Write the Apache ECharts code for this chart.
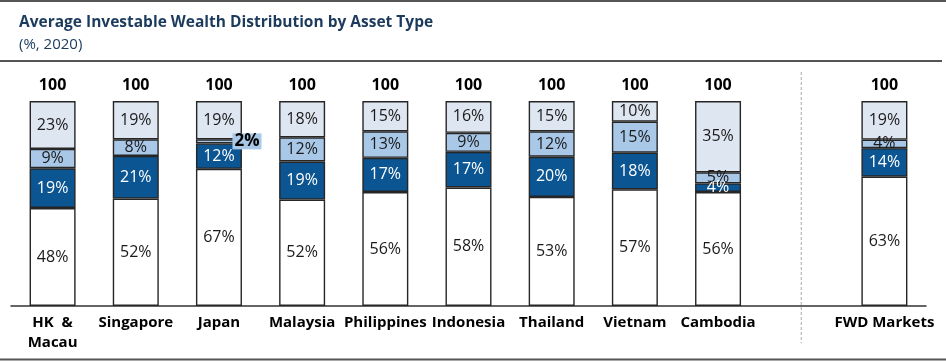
<!DOCTYPE html>
<html><head><meta charset="utf-8">
<script src="https://cdn.jsdelivr.net/npm/echarts@6/dist/echarts.min.js"></script>
<style>html,body{margin:0;padding:0;background:#fff}#c{width:946px;height:362px}</style>
</head><body><div id="c"></div>
<script>
// Data (percent shares, bottom segment first)
const categories = ['HK  &\nMacau','Singapore','Japan','Malaysia','Philippines','Indonesia','Thailand','Vietnam','Cambodia','','FWD Markets'];
const seg1 = [47.8,52.4,66.9,51.9,55.6,57.8,53.2,56.9,55.6,null,63.1]; // white
const seg2 = [19.4,20.8,12.4,18.6,16.7,17.4,19.6,17.9,4.2,null,13.9]; // dark blue
const seg3 = [9.4,8.1,2.0,11.8,12.9,9.3,12.4,15.1,5.4,null,4.2];      // light blue
const seg4 = [23.4,18.7,18.7,17.7,14.8,15.5,14.8,10.1,34.8,null,18.8]; // lightest blue
const totals = [100,100,100,100,100,100,100,100,100,null,100];
const outsideLabelIndex = 2; // Japan's small segment label drawn beside the bar

const FONT = '"Open Sans", sans-serif';
const colors = ['#ffffff','#0b5592','#a9c8e8','#dee6f1'];
const labelColors = ['#1a1a1a','#ffffff','#1a1a1a','#1a1a1a'];
const BW = 46;
const fmt = p => Math.round(p.value) + '%';

function segSeries(name, data, i){
  return {
    name, type:'bar', stack:'total', barWidth:BW, data,
    itemStyle:{color:colors[i], borderColor:'#262626', borderWidth:1.4},
    label:{show:true, position:'inside', formatter:fmt, fontFamily:FONT, fontSize:16, color:labelColors[i]},
    z:3
  };
}

const seg3Data = seg3.map((v, k) => k === outsideLabelIndex ? {
  value: v,
  label:{position:'inside', offset:[28,0], fontWeight:'bold', fontSize:17, color:'#000', backgroundColor:'#a9c8e8', padding:[0,2], lineHeight:16}
} : v);

const chart = echarts.init(document.getElementById('c'), null, {renderer:'canvas'});
chart.setOption({
  animation:false,
  backgroundColor:'#fff',
  title:{
    left:14, top:10, itemGap:6,
    text:'Average Investable Wealth Distribution by Asset Type',
    subtext:'(%, 2020)',
    textStyle:{fontFamily:FONT, fontSize:15.5, fontWeight:'bold', color:'#1b3a5c'},
    subtextStyle:{fontFamily:FONT, fontSize:15, color:'#1b3a5c'}
  },
  grid:{left:11, right:20, top:101, bottom:56},
  xAxis:{
    type:'category', data:categories,
    axisTick:{show:false},
    axisLine:{lineStyle:{color:'#333', width:1.5}},
    axisLabel:{interval:0, fontFamily:FONT, fontSize:15, fontWeight:'bold', color:'#000', lineHeight:20, margin:7}
  },
  yAxis:{type:'value', min:0, max:100, show:false, splitLine:{show:false}},
  series:[
    segSeries('Segment 1', seg1, 0),
    segSeries('Segment 2', seg2, 1),
    segSeries('Segment 3', seg3Data, 2),
    segSeries('Segment 4', seg4, 3),
    {
      name:'Total', type:'bar', barWidth:BW, barGap:'-100%', data:totals,
      itemStyle:{color:'rgba(0,0,0,0)'}, z:1, silent:true,
      label:{show:true, position:'top', distance:8, formatter:p=>String(p.value), fontFamily:FONT, fontSize:16, fontWeight:'bold', color:'#000'}
    }
  ]
});

const sepX = chart.convertToPixel({xAxisIndex:0}, 9);
chart.setOption({
  graphic:[
    {type:'line', shape:{x1:0,y1:1,x2:946,y2:1}, style:{stroke:'#555', lineWidth:2}},
    {type:'line', shape:{x1:0,y1:61,x2:942,y2:61}, style:{stroke:'#555', lineWidth:2}},
    {type:'line', shape:{x1:0,y1:359.5,x2:946,y2:359.5}, style:{stroke:'#555', lineWidth:2}},
    {type:'line', shape:{x1:sepX,y1:72,x2:sepX,y2:343}, style:{stroke:'#aaa', lineWidth:1, lineDash:[3,2]}}
  ]
});
</script></body></html>
